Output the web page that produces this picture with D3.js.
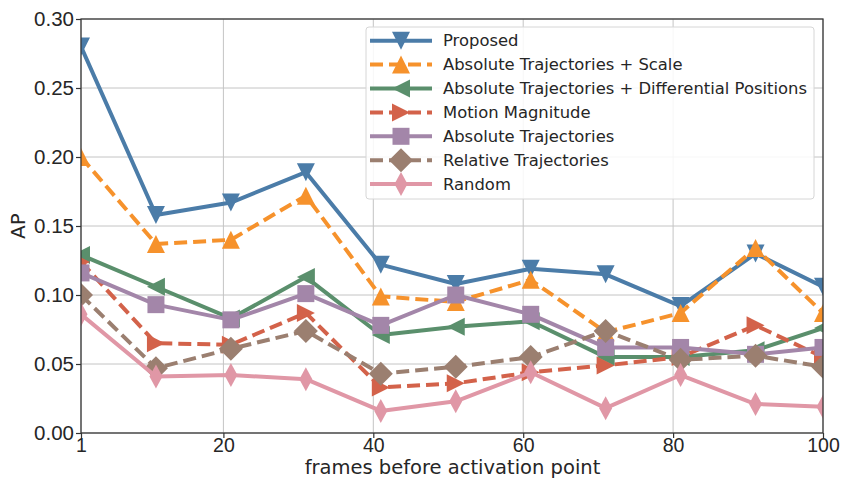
<!DOCTYPE html>
<html>
<head>
<meta charset="utf-8">
<script src="https://cdn.jsdelivr.net/npm/d3@7"></script>
<style>
  html, body { margin: 0; padding: 0; background: #fff; }
  svg { display: block; font-family: "DejaVu Sans", sans-serif; }
</style>
</head>
<body>
<svg id="chart" width="843" height="479"></svg>
<script>
// Frames before the activation point (x positions of every series)
const frames = [1, 11, 21, 31, 41, 51, 61, 71, 81, 91, 100];

// Average precision per method
const proposed      = [0.280, 0.158, 0.167, 0.189, 0.122, 0.108, 0.119, 0.115, 0.092, 0.130, 0.106];
const absScale      = [0.200, 0.137, 0.140, 0.172, 0.099, 0.095, 0.111, 0.073, 0.087, 0.134, 0.087];
const absDiff       = [0.129, 0.106, 0.083, 0.113, 0.071, 0.077, 0.081, 0.055, 0.055, 0.060, 0.076];
const motionMag     = [0.124, 0.065, 0.064, 0.087, 0.033, 0.036, 0.044, 0.049, 0.055, 0.078, 0.055];
const absTraj       = [0.116, 0.093, 0.082, 0.101, 0.078, 0.100, 0.086, 0.062, 0.062, 0.057, 0.062];
const relTraj       = [0.100, 0.047, 0.061, 0.074, 0.043, 0.048, 0.055, 0.074, 0.053, 0.056, 0.048];
const randomAP      = [0.086, 0.041, 0.042, 0.039, 0.016, 0.023, 0.044, 0.018, 0.042, 0.021, 0.019];

const seriesNames = [
  "Proposed",
  "Absolute Trajectories + Scale",
  "Absolute Trajectories + Differential Positions",
  "Motion Magnitude",
  "Absolute Trajectories",
  "Relative Trajectories",
  "Random"
];
const seriesValues = [proposed, absScale, absDiff, motionMag, absTraj, relTraj, randomAP];

const xTicks = [1, 20, 40, 60, 80, 100];
const yTicks = [0.00, 0.05, 0.10, 0.15, 0.20, 0.25, 0.30];

// Visual styling per series
const colors  = ["#4b7ca8", "#f6922c", "#5a8f6c", "#d3624a", "#a386a9", "#9b7f70", "#e097a6"];
const dashed  = [false, true, false, true, false, true, false];
const markers = ["triDown", "triUp", "triLeft", "triRight", "square", "diamond", "thinDiamond"];

const margin = { left: 81, right: 20, top: 19, bottom: 46 };
const W = 843, H = 479;
const pw = W - margin.left - margin.right;
const ph = H - margin.top - margin.bottom;

const svg = d3.select("#chart");
const x = d3.scaleLinear().domain([1, 100]).range([0, pw]);
const y = d3.scaleLinear().domain([0, 0.30]).range([ph, 0]);

const g = svg.append("g").attr("transform", `translate(${margin.left},${margin.top})`);

svg.append("defs").append("clipPath").attr("id", "plotClip")
  .append("rect").attr("x", 0).attr("y", 0).attr("width", pw).attr("height", ph);

// Grid
const grid = g.append("g").attr("class", "grid");
grid.selectAll("line.gx").data(xTicks).join("line")
  .attr("x1", d => x(d)).attr("x2", d => x(d)).attr("y1", 0).attr("y2", ph)
  .attr("stroke", "#c4c4c4").attr("stroke-width", 1);
grid.selectAll("line.gy").data(yTicks).join("line")
  .attr("x1", 0).attr("x2", pw).attr("y1", d => y(d)).attr("y2", d => y(d))
  .attr("stroke", "#c4c4c4").attr("stroke-width", 1);

// Marker shapes (path strings centred on 0,0)
function markerPath(kind) {
  const t = 9; // triangle half-size
  switch (kind) {
    case "triDown":  return `M${-t},${-t}L${t},${-t}L0,${t}Z`;
    case "triUp":    return `M${-t},${t}L${t},${t}L0,${-t}Z`;
    case "triLeft":  return `M${t},${-t}L${t},${t}L${-t},0Z`;
    case "triRight": return `M${-t},${-t}L${-t},${t}L${t},0Z`;
    case "square":   return "M-8.5,-8.5H8.5V8.5H-8.5Z";
    case "diamond":  return "M0,-12L12,0L0,12L-12,0Z";
    case "thinDiamond": return "M0,-12L6.5,0L0,12L-6.5,0Z";
  }
}

// Series
const plot = g.append("g").attr("clip-path", "url(#plotClip)");
const line = d3.line().x(d => x(d[0])).y(d => y(d[1]));
seriesValues.forEach((vals, i) => {
  const pts = frames.map((f, k) => [f, vals[k]]);
  const sg = plot.append("g");
  sg.append("path").datum(pts)
    .attr("d", line)
    .attr("fill", "none")
    .attr("stroke", colors[i])
    .attr("stroke-width", 4)
    .attr("stroke-linejoin", "round")
    .attr("stroke-dasharray", dashed[i] ? "13,6" : null);
  sg.selectAll("path.m").data(pts).join("path")
    .attr("class", "m")
    .attr("transform", d => `translate(${x(d[0])},${y(d[1])})`)
    .attr("d", markerPath(markers[i]))
    .attr("fill", colors[i]);
});

// Axes
const xAxis = d3.axisBottom(x).tickValues(xTicks).tickSize(5).tickPadding(0).tickFormat(d3.format("d"));
const yAxis = d3.axisLeft(y).tickValues(yTicks).tickSize(5).tickPadding(2).tickFormat(d3.format(".2f"));

const gx = g.append("g").attr("transform", `translate(0,${ph})`).call(xAxis);
const gy = g.append("g").call(yAxis);
[gx, gy].forEach(a => {
  a.select(".domain").remove();
  a.selectAll(".tick line").attr("stroke", "#333").attr("stroke-width", 1.2);
  a.selectAll(".tick text").attr("fill", "#262626");
});
gx.selectAll(".tick text").style("font-size", "19.5px");
gy.selectAll(".tick text").style("font-size", "20.5px");

// Frame
g.append("rect").attr("x", 0).attr("y", 0).attr("width", pw).attr("height", ph)
  .attr("fill", "none").attr("stroke", "#333").attr("stroke-width", 1.25);

// Axis labels
svg.append("text")
  .attr("x", margin.left + pw / 2 + 0.5).attr("y", H - 4.7)
  .attr("text-anchor", "middle").attr("fill", "#262626").style("font-size", "19.5px")
  .text("frames before activation point");
svg.append("text")
  .attr("transform", `translate(25,${margin.top + ph / 2}) rotate(-90)`)
  .attr("text-anchor", "middle").attr("fill", "#262626").style("font-size", "20px")
  .text("AP");

// Legend
const lg = svg.append("g").attr("transform", "translate(366,27)");
lg.append("rect").attr("width", 448).attr("height", 172).attr("rx", 3)
  .attr("fill", "#fff").attr("fill-opacity", 0.85)
  .attr("stroke", "#d6d6d6").attr("stroke-width", 1);
seriesNames.forEach((name, i) => {
  const row = lg.append("g").attr("transform", `translate(0,${13.7 + i * 23.9})`);
  row.append("line").attr("x1", 4).attr("x2", 66).attr("y1", 0).attr("y2", 0)
    .attr("stroke", colors[i]).attr("stroke-width", 4)
    .attr("stroke-dasharray", dashed[i] ? "13,6" : null);
  row.append("path").attr("transform", "translate(35,0)")
    .attr("d", markerPath(markers[i])).attr("fill", colors[i]);
  row.append("text").attr("x", 77).attr("y", 0).attr("dy", "0.35em")
    .attr("fill", "#262626").style("font-size", "16.4px").text(name);
});
</script>
</body>
</html>
